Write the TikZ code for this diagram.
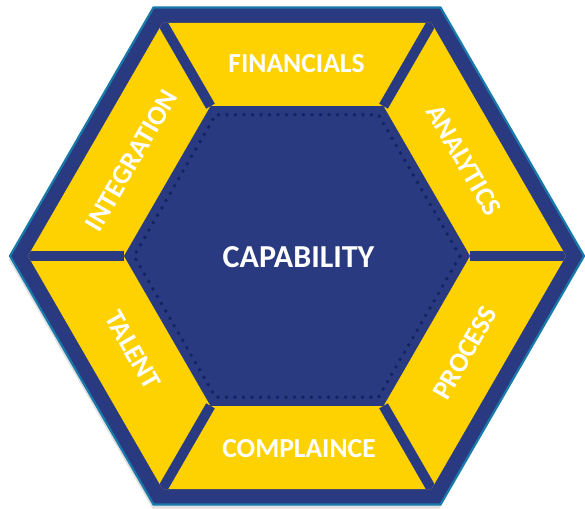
\documentclass[tikz,border=0pt]{standalone}
\usepackage{fontspec}
\setmainfont{Carlito}
\definecolor{navy}{RGB}{42,58,128}
\definecolor{dotnavy}{RGB}{20,34,96}
\definecolor{gold}{RGB}{253,210,0}
\definecolor{tealline}{RGB}{24,122,170}
\begin{document}
\begin{tikzpicture}[x=1pt,y=-1pt,
  lbl/.style={text=white,font=\fontsize{27.5}{31}\selectfont\bfseries,inner sep=0pt},
  spoke/.style={draw=navy,line width=10pt}]
\useasboundingbox (0,0) rectangle (585,508);
% shadow
\fill[black,opacity=0.12] (583,260) -- (439.5,508.5) -- (152.5,508.5) -- (9,260) -- (152.5,11.5) -- (439.5,11.5) -- cycle;
% outer hexagon
\filldraw[fill=navy,draw=tealline,line width=2.2pt,line join=miter]
  (584,256) coordinate (o0) -- (440.5,7.5) coordinate (o1) -- (153.5,7.5) coordinate (o2)
  -- (10,256) coordinate (o3) -- (153.5,504.5) coordinate (o4) -- (440.5,504.5) coordinate (o5) -- cycle;
\fill[navy] (582,256) -- (439.4,9.5) -- (154.6,9.5) -- (12,256) -- (154.6,502.5) -- (439.4,502.5) -- cycle;
% yellow ring
\fill[gold] (566,256) -- (431.5,23) -- (162.5,23) -- (28,256) -- (162.5,489) -- (431.5,489) -- cycle;
\fill[navy] (470,256) coordinate (i0) -- (383.5,106.2) coordinate (i1) -- (210.5,106.2) coordinate (i2)
  -- (124,256) coordinate (i3) -- (210.5,405.8) coordinate (i4) -- (383.5,405.8) coordinate (i5) -- cycle;
% spokes (clipped to the ring)
\begin{scope}
\clip (566,256) -- (431.5,23) -- (162.5,23) -- (28,256) -- (162.5,489) -- (431.5,489) -- cycle;
\foreach \k in {0,...,5} { \draw[spoke] (i\k) -- (o\k); }
\end{scope}
% dotted hexagon
\draw[dotnavy,line width=3.8pt,line cap=round,dash pattern=on 0pt off 8.5pt]
  (460,256) -- (378.5,114.8) -- (215.5,114.8) -- (134,256) -- (215.5,397.2) -- (378.5,397.2) -- cycle;
% labels
\node[lbl] (cap) at (298.5,257) {\fontsize{32}{36}\selectfont CAPABILITY};
\node[lbl] (fin) at (296.5,64) {FINANCIALS};
\node[lbl] (com) at (299,449) {COMPLAINCE};
\node[lbl,rotate=60] (int) at (131.5,160.5) {INTEGRATION};
\node[lbl,rotate=-60] (ana) at (464,160) {ANALYTICS};
\node[lbl,rotate=60] (pro) at (465,353) {PROCESS};
\node[lbl,rotate=-60] (tal) at (133,350) {TALENT};
\end{tikzpicture}
\end{document}
